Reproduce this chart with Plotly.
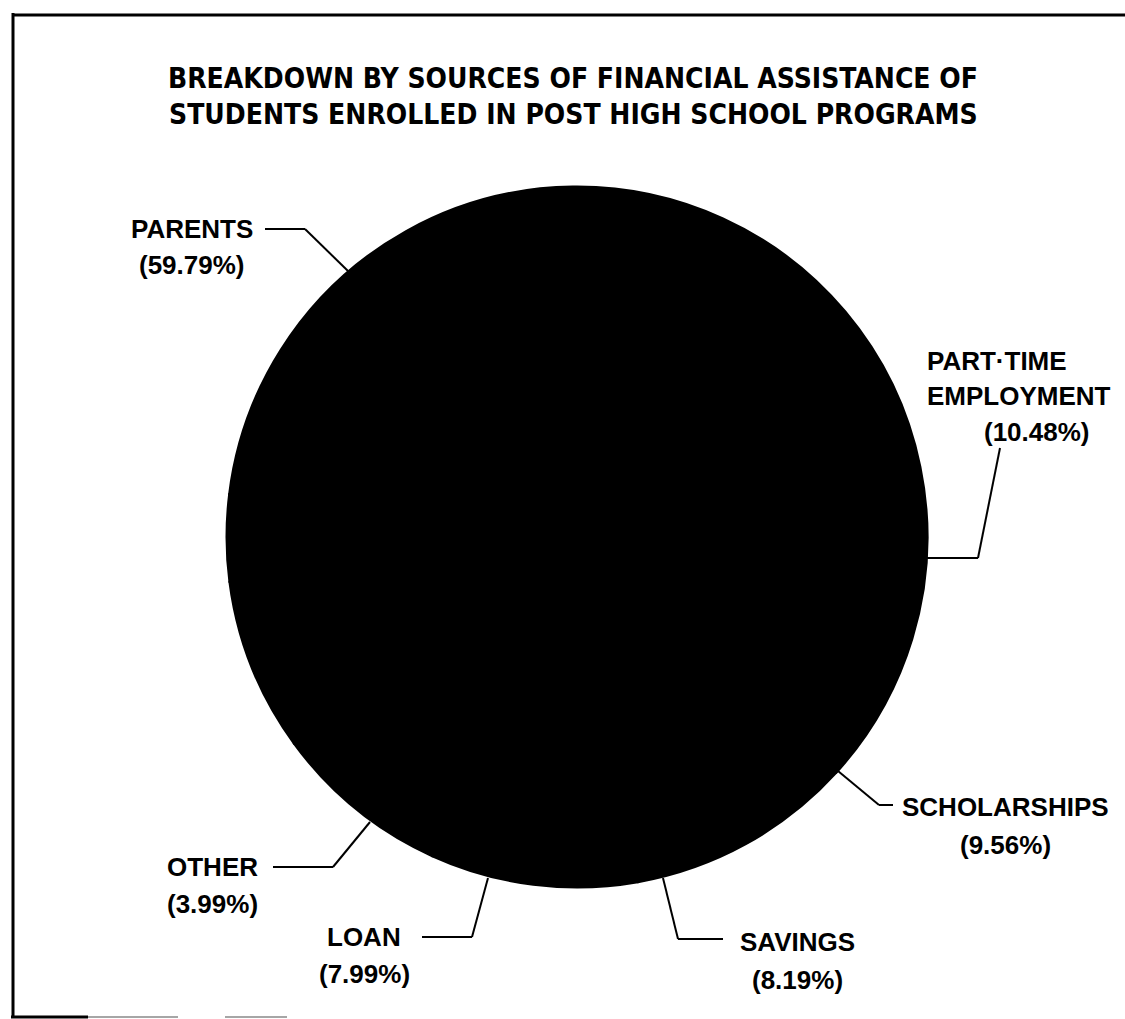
import plotly.graph_objects as go

# ---- data ----
categories = ["PARENTS", "PART-TIME EMPLOYMENT", "SCHOLARSHIPS", "SAVINGS", "LOAN", "OTHER"]
percentages = [59.79, 10.48, 9.56, 8.19, 7.99, 3.99]
pct_labels = ["(59.79%)", "(10.48%)", "(9.56%)", "(8.19%)", "(7.99%)", "(3.99%)"]
title_lines = ["BREAKDOWN BY SOURCES OF FINANCIAL ASSISTANCE OF",
               "STUDENTS ENROLLED IN POST HIGH SCHOOL PROGRAMS"]

W, H = 1125, 1019


def px(x):
    return x / W


def py(y):
    return 1 - y / H


fig = go.Figure()

# pie (all slices black, as in the original print)
cx, cy, r = 577, 537, 350
fig.add_trace(go.Pie(
    labels=categories,
    values=percentages,
    sort=False,
    direction="clockwise",
    rotation=-83,
    textinfo="none",
    marker=dict(colors=["#000000"] * len(categories), line=dict(color="#000000", width=3)),
    hovertemplate="%{label}: %{value}%<extra></extra>",
    domain=dict(x=[px(cx - r), px(cx + r)], y=[py(cy + r), py(cy - r)]),
    showlegend=False,
))

shapes = []


def seg(points, color="black", width=2):
    for (x0, y0), (x1, y1) in zip(points[:-1], points[1:]):
        shapes.append(dict(type="line", xref="paper", yref="paper",
                           x0=px(x0), y0=py(y0), x1=px(x1), y1=py(y1),
                           line=dict(color=color, width=width)))


# leader lines
seg([(265, 229), (305, 229), (348, 271)])                 # parents
seg([(1000, 448), (978, 558), (927, 558)])               # part-time
seg([(838, 771), (879, 805), (893, 805)])                # scholarships
seg([(663, 878), (678, 939), (723, 939)])                # savings
seg([(488, 878), (472, 937), (422, 937)])                # loan
seg([(370, 822), (333, 867), (273, 867)])                # other

# page frame
seg([(12, 15), (1125, 15)], width=3)
seg([(13, 13), (13, 1017)], width=3)
seg([(11, 1017), (88, 1017)], width=3)
seg([(88, 1017), (178, 1017)], color="#888888", width=1.5)
seg([(225, 1017), (287, 1017)], color="#888888", width=1.5)

annotations = []
lab_font = dict(family="Liberation Sans, Arial, sans-serif", size=26, color="black",
                weight="bold")


def txt(text, x, y, xanchor="center", font=lab_font):
    annotations.append(dict(text=text, x=px(x), y=py(y), xref="paper", yref="paper",
                            xanchor=xanchor, yanchor="middle", showarrow=False, font=font))


title_font = dict(family="DejaVu Sans Condensed, DejaVu Sans, sans-serif", size=28,
                  color="black", weight="bold")
txt(title_lines[0], 573, 79, font=title_font)
txt(title_lines[1], 573, 114, font=title_font)

txt(categories[0], 192, 229)
txt(pct_labels[0], 192, 265)

txt("PART·TIME", 925, 361, xanchor="left")
txt("EMPLOYMENT", 925, 396, xanchor="left")
txt(pct_labels[1], 1037, 432)

txt(categories[2], 1005, 807)
txt(pct_labels[2], 1005, 845)

txt(categories[3], 797, 942)
txt(pct_labels[3], 797, 980)

txt(categories[4], 364, 937)
txt(pct_labels[4], 364, 974)

txt(categories[5], 212, 867)
txt(pct_labels[5], 212, 904)

fig.update_layout(
    width=W, height=H,
    margin=dict(l=0, r=0, t=0, b=0),
    paper_bgcolor="white",
    plot_bgcolor="white",
    shapes=shapes,
    annotations=annotations,
    showlegend=False,
)

fig.write_html("out.html", config={"displayModeBar": False},
               post_script="document.body.style.margin='0';")
